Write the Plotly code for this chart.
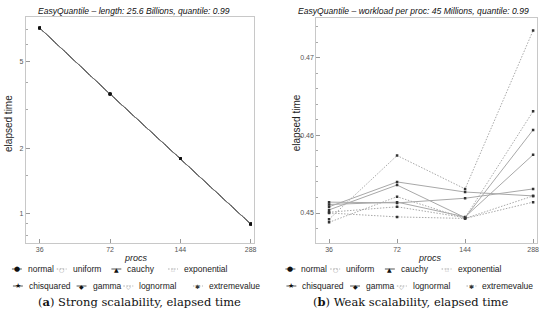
import math
import plotly.graph_objects as go

# ---------------- data ----------------
procs = [36, 72, 144, 288]
proc_tick_labels = ["36", "72", "144", "288"]
distributions = ["normal", "uniform", "cauchy", "exponential",
                 "chisquared", "gamma", "lognormal", "extremevalue"]

# strong scalability: all distributions overlap
strong_elapsed = [7.13, 3.55, 1.79, 0.90]
strong_yticks = [1, 2, 5]

# weak scalability
weak_normal = [0.4508, 0.4540, 0.4527, 0.4522]
weak_uniform = [0.4492, 0.4574, 0.4531, 0.4735]
weak_cauchy = [0.4504, 0.4536, 0.4494, 0.4607]
weak_exponential = [0.4488, 0.4521, 0.4493, 0.4514]
weak_chisquared = [0.4514, 0.4513, 0.4519, 0.4531]
weak_gamma = [0.4511, 0.4514, 0.4495, 0.4575]
weak_lognormal = [0.4501, 0.4508, 0.4494, 0.4631]
weak_extremevalue = [0.4500, 0.4495, 0.4493, 0.4522]
weak_yticks = [0.45, 0.46, 0.47]

weak_series = [weak_normal, weak_uniform, weak_cauchy, weak_exponential,
               weak_chisquared, weak_gamma, weak_lognormal, weak_extremevalue]

# ---------------- styles ----------------
W, H = 550, 320
glyphs = ["●", "○", "▲", "△", "★", "◆", "◇", "✱"]
DOT = "1.5px,1.5px"
dashes = ["solid", DOT, "solid", DOT, "solid", "solid", DOT, DOT]
glyph_sizes = [7, 6, 6, 5, 7, 6, 6, 6]
glyph_colors = ["#111", "#999", "#111", "#aaa", "#111", "#111", "#999", "#333"]


def px(x):
    return x / W


def py(y):
    return 1 - y / H


fig = go.Figure()

for i, name in enumerate(distributions):
    fig.add_trace(go.Scatter(
        x=procs, y=strong_elapsed, mode="lines+markers", name=name,
        xaxis="x", yaxis="y", showlegend=False,
        line=dict(color="#707070", width=1, dash=dashes[i]),
        marker=dict(symbol="square", size=2.5, color="#111",
                    line=dict(width=0))))

for i, name in enumerate(distributions):
    fig.add_trace(go.Scatter(
        x=procs, y=weak_series[i], mode="lines+markers", name=name,
        xaxis="x2", yaxis="y2", showlegend=False,
        line=dict(color="#a8a8a8", width=1, dash=dashes[i]),
        marker=dict(symbol="square", size=2.5, color="#333",
                    line=dict(width=0))))

axis_common = dict(showline=True, mirror=True, linecolor="#c8c8c8", linewidth=1,
                   ticks="inside", ticklen=4, tickcolor="#999", tickwidth=0.8,
                   tickfont=dict(family="Liberation Sans, Arial", size=7, color="#555"),
                   showgrid=False, zeroline=False)

fig.update_layout(
    width=W, height=H, margin=dict(l=0, r=0, t=0, b=0),
    paper_bgcolor="white", plot_bgcolor="white", showlegend=False,
    xaxis=dict(domain=[px(26), px(255)], anchor="y", type="log",
               range=[math.log10(31.4), math.log10(296.5)],
               tickmode="array", tickvals=procs, ticktext=proc_tick_labels,
               **axis_common),
    yaxis=dict(domain=[py(243), py(17)], anchor="x", type="log",
               range=[math.log10(0.736), math.log10(8.01)],
               tickmode="array", tickvals=strong_yticks,
               ticktext=[str(v) for v in strong_yticks],
               minor=dict(tickmode="array", tickvals=[0.8, 0.9, 1.5, 3, 4, 6, 7],
                          ticklen=2, tickcolor="#aaa", ticks="inside"),
               **axis_common),
    xaxis2=dict(domain=[px(318), px(540)], anchor="y2", type="log",
                range=[math.log10(31.6), math.log10(299.8)],
                tickmode="array", tickvals=procs, ticktext=proc_tick_labels,
                **axis_common),
    yaxis2=dict(domain=[py(243), py(18)], anchor="x2",
                range=[0.44614, 0.4751],
                tickmode="array", tickvals=weak_yticks,
                ticktext=[f"{v:.2f}" for v in weak_yticks],
                minor=dict(dtick=0.002, tick0=0.45, ticklen=2, tickcolor="#aaa",
                           ticks="inside"),
                **axis_common),
)

sans = "Liberation Sans, Arial, sans-serif"
serif = "DejaVu Serif, serif"
ann = []


def text(x, y, s, size, family=sans, color="#222", xanchor="center", angle=0, italic=False):
    ann.append(dict(x=px(x), y=py(y), xref="paper", yref="paper", text=s,
                    showarrow=False, xanchor=xanchor, yanchor="middle",
                    textangle=angle,
                    font=dict(family=family, size=size, color=color,
                              style="italic" if italic else "normal")))


# titles
text(135, 11, "EasyQuantile – length: 25.6 Billions, quantile: 0.99", 8.6, italic=True, color="#111")
text(416, 11, "EasyQuantile – workload per proc: 45 Millions, quantile: 0.99", 8.6, italic=True, color="#111")
# axis titles
text(8, 123, "elapsed time", 10, angle=-90)
text(298, 123, "elapsed time", 10, angle=-90)
text(137, 258, "procs", 9, italic=True)
text(432, 258, "procs", 9, italic=True)
# captions
text(140, 302, "(<b>a</b>) Strong scalability, elapsed time", 11.5, family=serif, color="#111")
text(413, 302, "(<b>b</b>) Weak scalability, elapsed time", 11.5, family=serif, color="#111")

# legends (one under each panel)
legend_text_x = [26, 71, 126, 183, 27, 91, 138, 208]
legend_row_y = [269, 269, 269, 269, 286, 286, 286, 286]
shapes = []
for off in (0, 275):
    for i, name in enumerate(distributions):
        tx = legend_text_x[i] + off
        ty = legend_row_y[i]
        mx = tx - 9
        line_col = "#555" if dashes[i] == "solid" else "#aaa"
        shapes.append(dict(type="line", xref="paper", yref="paper",
                           x0=px(mx - 5), x1=px(mx + 5), y0=py(ty), y1=py(ty),
                           line=dict(color=line_col, width=1, dash=dashes[i])))
        ann.append(dict(x=px(mx), y=py(ty), xref="paper", yref="paper",
                        text=glyphs[i], showarrow=False, xanchor="center",
                        yanchor="middle",
                        font=dict(family="DejaVu Sans", size=glyph_sizes[i],
                                  color=glyph_colors[i])))
        text(tx, ty, name, 8.5, color="#222", xanchor="left")

fig.update_layout(annotations=ann, shapes=shapes)
fig.write_html("out.html", config={"displayModeBar": False},
               post_script="document.body.style.margin='0';")
